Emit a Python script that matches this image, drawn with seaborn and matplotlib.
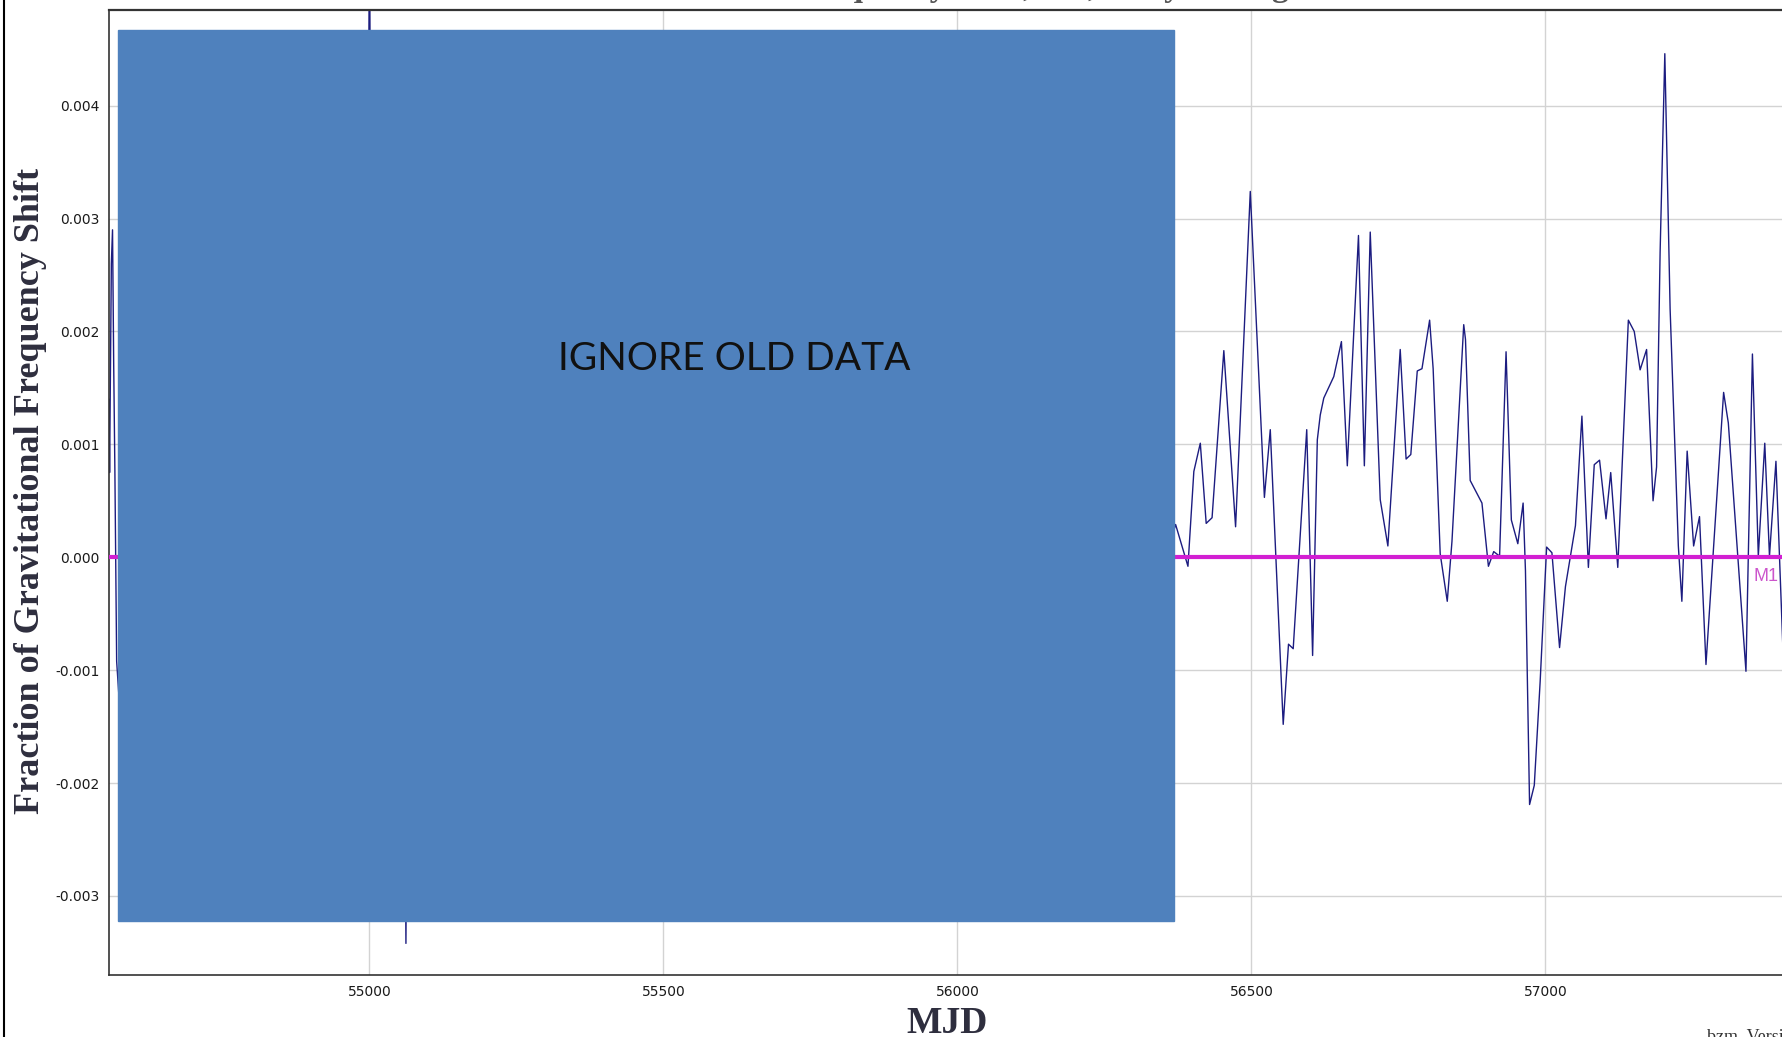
import numpy as np
import pandas as pd
import seaborn as sns
import matplotlib.pyplot as plt
from matplotlib.patches import Rectangle
from matplotlib.lines import Line2D
from matplotlib.ticker import FormatStrFormatter

# MJD of each sample (old data is mostly hidden under the box)
mjd = [54557, 54558, 54561, 54563, 54565, 54567, 54570, 54576, 54995, 55000, 55005,
       55058, 55062, 55066, 56360,
       56371, 56392, 56402, 56413, 56423, 56433, 56453, 56473, 56498, 56522,
       56532, 56554, 56563, 56571, 56594, 56601, 56604, 56612, 56617, 56623,
       56640, 56653, 56663, 56682, 56692, 56702, 56719, 56732, 56753, 56763,
       56771, 56782, 56790, 56803, 56809, 56821, 56833, 56841, 56861, 56864,
       56872, 56892, 56903, 56912, 56922, 56933, 56942, 56953, 56962, 56966,
       56969, 56973, 56981, 56991, 57002, 57011, 57024, 57034, 57051, 57062,
       57073, 57083, 57092, 57103, 57111, 57123, 57141, 57151, 57161, 57172,
       57183, 57189, 57195, 57203, 57212, 57226, 57232, 57241, 57252, 57262,
       57273, 57303, 57311, 57341, 57352, 57362, 57373, 57381, 57392, 57404,
       57410]
# fraction of gravitational frequency shift
shift = [0.0014, 0.00075, 0.0026, 0.0029, 0.0017, 0.00077, -0.00092, -0.0014, 0.0005, 0.0056, 0.0,
         0.0, -0.00342, 0.0, 0.0001,
         0.00029, -0.00008, 0.00076, 0.00101, 0.0003, 0.00035, 0.00183, 0.00027, 0.00324, 0.00053,
         0.00113, -0.00148, -0.00077, -0.00081, 0.00113, -0.00025, -0.00087, 0.00104, 0.00126, 0.00141,
         0.0016, 0.00191, 0.00081, 0.00285, 0.00081, 0.00288, 0.00051, 0.0001, 0.00184, 0.00087,
         0.00091, 0.00165, 0.00167, 0.0021, 0.00167, 0.00003, -0.00039, 0.00014, 0.00206, 0.00193,
         0.00068, 0.00048, -0.00008, 0.00005, 0.00001, 0.00182, 0.00033, 0.00012, 0.00048, -0.00012,
         -0.00101, -0.00219, -0.00202, -0.0011, 0.00009, 0.00004, -0.0008, -0.00026, 0.00028, 0.00125,
         -0.00009, 0.00082, 0.00086, 0.00034, 0.00075, -0.00009, 0.0021, 0.002, 0.00166, 0.00184,
         0.0005, 0.0008, 0.0027, 0.00446, 0.0022, 0.0001, -0.00039, 0.00094, 0.0001, 0.00036,
         -0.00095, 0.00146, 0.00119, -0.00101, 0.0018, 0.00001, 0.00101, 0.00001, 0.00085, -0.00083,
         -0.0012]

xticks = [55000, 55500, 56000, 56500, 57000]
yticks = [-0.003, -0.002, -0.001, 0.0, 0.001, 0.002, 0.003, 0.004]

df = pd.DataFrame({"MJD": mjd, "shift": shift})

sns.set_style("white")
W, H = 1783, 1037
fig = plt.figure(figsize=(W / 100, H / 100), dpi=100)
ax = fig.add_axes([109 / W, 62 / H, 1 - 109 / W, 965 / H])

sns.lineplot(data=df, x="MJD", y="shift", ax=ax, color="#1c1c80", lw=1,
             estimator=None, sort=False, zorder=2)
ax.axhline(0, color="#d21fd2", lw=3, zorder=3)
ax.text(57353, -0.00021, "M1", color="#cc55cc", fontsize=13,
        family="Liberation Sans", va="baseline", zorder=4)

ax.set_xlim(54557, 57404)
ax.set_ylim(-0.0037, 0.004847)
ax.set_xticks(xticks)
ax.set_yticks(yticks)
ax.xaxis.set_major_formatter(FormatStrFormatter("%d"))
ax.yaxis.set_major_formatter(FormatStrFormatter("%.3f"))
ax.set_xlabel("")
ax.set_ylabel("")
ax.grid(True, color="#d3d3d3", lw=1)
ax.set_axisbelow(True)
ax.tick_params(direction="out", length=4, color="#aaaaaa", labelsize=10,
               labelcolor="#1a1a1a", pad=3)
for s in ["left", "bottom"]:
    ax.spines[s].set_color("#333333")
    ax.spines[s].set_linewidth(1.2)
ax.spines["top"].set_color("#333333")
ax.spines["top"].set_linewidth(1.6)
ax.spines["right"].set_visible(False)

# labels
fig.text(31 / W, 0.5265, "Fraction of Gravitational Frequency Shift", rotation=90,
         ha="center", va="center", family="Liberation Serif", weight="bold",
         fontsize=26, color="#2e2e3e")
fig.text(947 / W, 0.0043, "MJD", ha="center", va="baseline",
         family="Liberation Serif", weight="bold", fontsize=27, color="#2e2e3e")
# title, cut off at the top edge
fig.text(0.532, 1 + 4 / H, "Gravitational Frequency Shift, M1, Daily Average",
         ha="center", va="baseline", family="Liberation Serif", weight="bold",
         fontsize=24, color="#555555")
fig.text(1707 / W, 1 - 1029 / H, "bzm  Version", ha="left", va="top",
         family="Liberation Serif", fontsize=13, color="#333333")

# cover box over old data
fig.add_artist(Rectangle((118 / W, 1 - 921 / H), (1174 - 118) / W, (921 - 30) / H,
                         transform=fig.transFigure, color="#4f81bd", zorder=10))
fig.text(734 / W, 1 - 359 / H, "IGNORE OLD DATA", ha="center", va="center",
         family="Lato", fontsize=28, color="#111111", zorder=11)

# frame line on the left of the screenshot
fig.add_artist(Line2D([4 / W, 4 / W], [0, 1], transform=fig.transFigure,
                      color="black", lw=1.5))

fig.savefig("out.png", dpi=100)
